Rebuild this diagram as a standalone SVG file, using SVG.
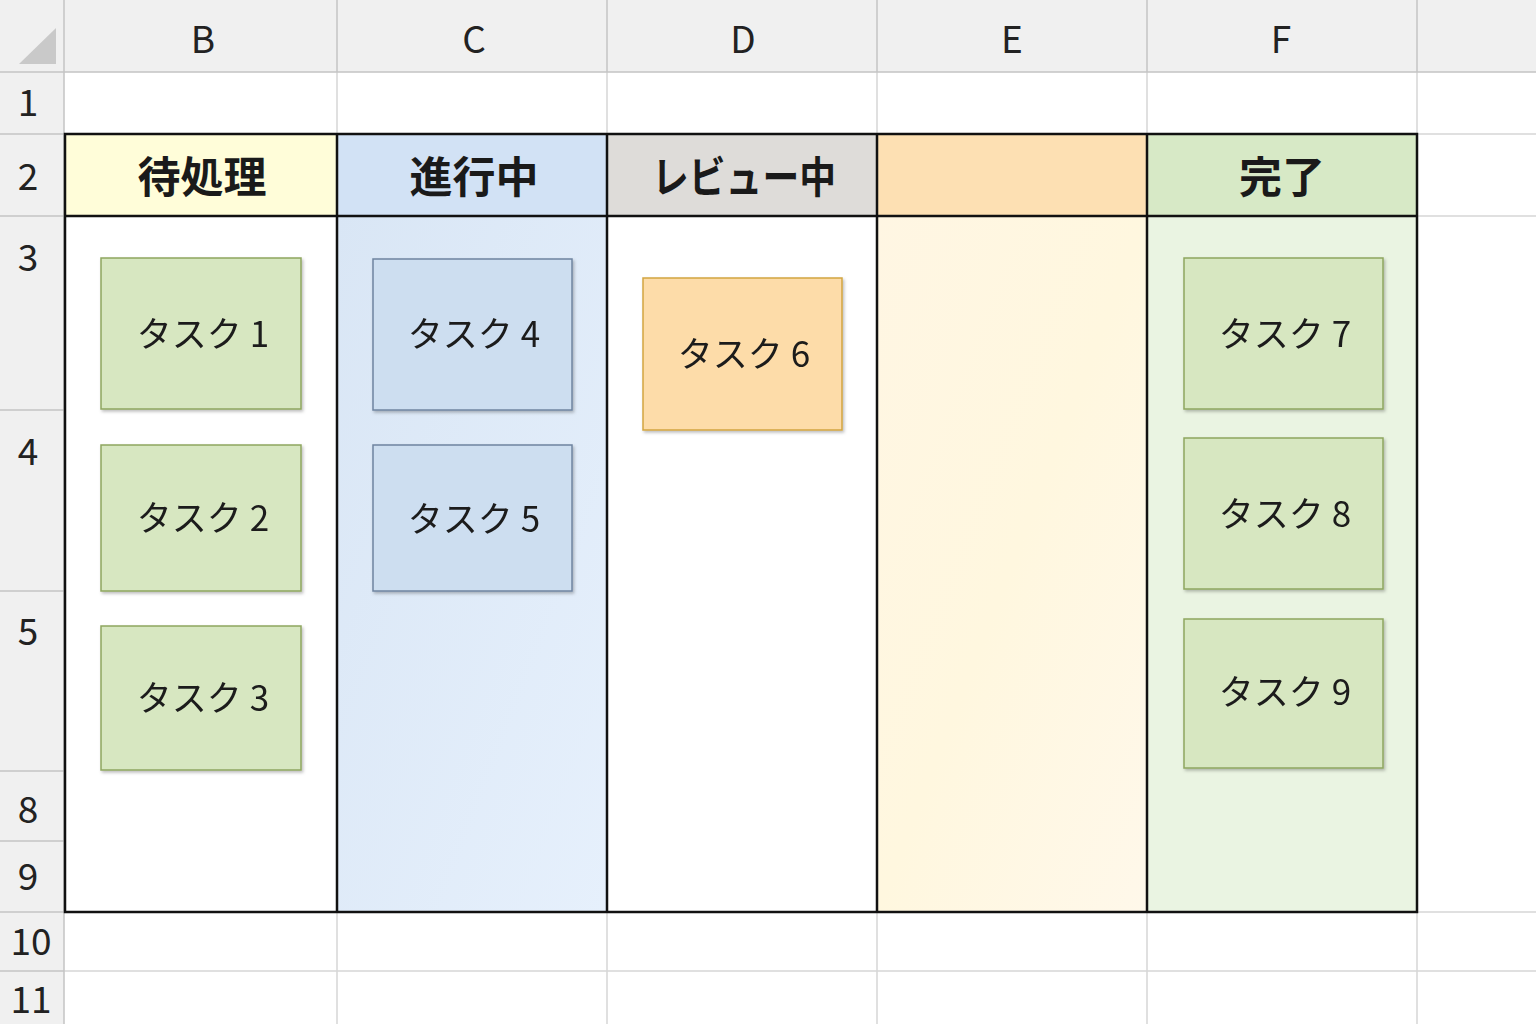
<svg xmlns="http://www.w3.org/2000/svg" width="1536" height="1024" viewBox="0 0 1536 1024">
<style>
.hdr{fill:#f0f0f0}
.grid{stroke:#d6d6d6;stroke-width:1.5;fill:none}
.hgrid{stroke:#c4c4c4;stroke-width:1.5;fill:none}
.lbl{font-family:"Noto Sans CJK JP","Liberation Sans",sans-serif;font-size:37px;fill:#222;text-anchor:middle}
.title{font-family:"Noto Sans CJK JP",sans-serif;font-size:43px;font-weight:bold;fill:#1a1a1a;text-anchor:middle}
.task{font-family:"Noto Sans CJK JP",sans-serif;font-size:35px;fill:#1a1a1a;text-anchor:middle}
.g{fill:#d7e7c1;stroke:#8ea65f;stroke-width:1.5}
.b{fill:#cddef0;stroke:#6f84a0;stroke-width:1.5}
.o{fill:#fddca9;stroke:#d2a540;stroke-width:1.5}
.bold{stroke:#111;stroke-width:2.5;fill:none}
</style>
<defs>
<filter id="sh" x="-10%" y="-10%" width="125%" height="125%">
<feDropShadow dx="1.5" dy="2" stdDeviation="1.5" flood-color="#000" flood-opacity="0.25"/>
</filter>
<linearGradient id="gc" x1="0" y1="0" x2="1" y2="1">
<stop offset="0" stop-color="#d9e6f5"/><stop offset="1" stop-color="#e6f0fc"/>
</linearGradient>
<linearGradient id="ge" x1="0" y1="0" x2="1" y2="1">
<stop offset="0" stop-color="#fff6e3"/><stop offset="0.5" stop-color="#fff7df"/><stop offset="1" stop-color="#fff8ea"/>
</linearGradient>
</defs>
<rect width="1536" height="1024" fill="#fff"/>
<!-- headers -->
<rect class="hdr" x="0" y="0" width="1536" height="72"/>
<rect class="hdr" x="0" y="0" width="64" height="1024"/>
<polygon points="19,64 56,64 56,28" fill="#c9c9c9"/>
<!-- cell fills -->
<rect x="64" y="134" width="273" height="82" fill="#fffdd9"/>
<rect x="337" y="134" width="270" height="82" fill="#d2e2f5"/>
<rect x="607" y="134" width="270" height="82" fill="#dedcd9"/>
<rect x="877" y="134" width="270" height="82" fill="#fde0b3"/>
<rect x="1147" y="134" width="270" height="82" fill="#d7e9c6"/>
<rect x="337" y="216" width="270" height="696" fill="url(#gc)"/>
<rect x="877" y="216" width="270" height="696" fill="url(#ge)"/>
<rect x="1147" y="216" width="270" height="696" fill="#eaf4e2"/>
<!-- grid lines -->
<g class="grid">
<path d="M64 134H1536M64 216H1536M64 912H1536M64 971H1536"/>
<path d="M337 72V1024M607 72V1024M877 72V1024M1147 72V1024M1417 72V1024"/>
</g>
<g class="hgrid">
<path d="M64 0V1024M0 72H1536M337 0V72M607 0V72M877 0V72M1147 0V72M1417 0V72"/>
<path d="M0 134H64M0 216H64M0 410H64M0 591H64M0 771H64M0 841H64M0 912H64M0 971H64"/>
</g>
<!-- bold borders -->
<g class="bold">
<rect x="65" y="134" width="1352" height="778"/>
<path d="M65 216H1417M337 134V912M607 134V912M877 134V912M1147 134V912"/>
</g>
<!-- column letters -->
<g>
<text class="lbl" x="203" y="53">B</text>
<text class="lbl" x="474" y="53">C</text>
<text class="lbl" x="743" y="53">D</text>
<text class="lbl" x="1012" y="53">E</text>
<text class="lbl" x="1281" y="53">F</text>
</g>
<!-- row numbers -->
<g>
<text class="lbl" x="28" y="116">1</text>
<text class="lbl" x="28" y="190">2</text>
<text class="lbl" x="28" y="271">3</text>
<text class="lbl" x="28" y="465">4</text>
<text class="lbl" x="28" y="645">5</text>
<text class="lbl" x="28" y="823">8</text>
<text class="lbl" x="28" y="890">9</text>
<text class="lbl" x="31" y="955">10</text>
<text class="lbl" x="31" y="1013">11</text>
</g>
<!-- column titles -->
<g id="col-pending"><text class="title" x="202" y="193">待処理</text></g>
<g id="col-progress"><text class="title" x="474" y="193">進行中</text></g>
<g id="col-review"><text class="title" x="744" y="193" textLength="184" lengthAdjust="spacingAndGlyphs">レビュー中</text></g>
<g id="col-done"><text class="title" x="1282" y="193">完了</text></g>
<!-- tasks -->
<g id="task1" filter="url(#sh)"><rect class="g" x="101" y="258" width="200" height="151"/><text class="task" x="203" y="347">タスク 1</text></g>
<g id="task2" filter="url(#sh)"><rect class="g" x="101" y="445" width="200" height="146"/><text class="task" x="203" y="531">タスク 2</text></g>
<g id="task3" filter="url(#sh)"><rect class="g" x="101" y="626" width="200" height="144"/><text class="task" x="203" y="711">タスク 3</text></g>
<g id="task4" filter="url(#sh)"><rect class="b" x="373" y="259" width="199" height="151"/><text class="task" x="474" y="347">タスク 4</text></g>
<g id="task5" filter="url(#sh)"><rect class="b" x="373" y="445" width="199" height="146"/><text class="task" x="474" y="532">タスク 5</text></g>
<g id="task6" filter="url(#sh)"><rect class="o" x="643" y="278" width="199" height="152"/><text class="task" x="744" y="367">タスク 6</text></g>
<g id="task7" filter="url(#sh)"><rect class="g" x="1184" y="258" width="199" height="151"/><text class="task" x="1285" y="347">タスク 7</text></g>
<g id="task8" filter="url(#sh)"><rect class="g" x="1184" y="438" width="199" height="151"/><text class="task" x="1285" y="527">タスク 8</text></g>
<g id="task9" filter="url(#sh)"><rect class="g" x="1184" y="619" width="199" height="149"/><text class="task" x="1285" y="705">タスク 9</text></g>
</svg>
